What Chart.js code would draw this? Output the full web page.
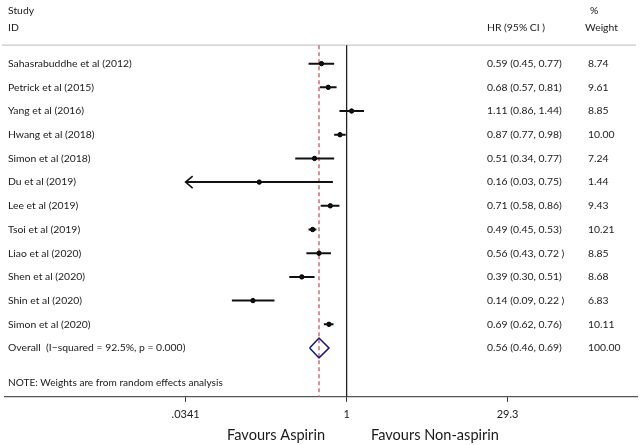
<!DOCTYPE html>
<html>
<head>
<meta charset="utf-8">
<script src="https://cdn.jsdelivr.net/npm/chart.js@4.4.1/dist/chart.umd.min.js"></script>
<style>
  body { margin: 0; background: #fff; }
  #wrap { width: 642px; height: 445px; position: relative; }
</style>
</head>
<body>
<div id="wrap"><canvas id="forest"></canvas></div>
<script>
const STUDIES = ['Sahasrabuddhe et al (2012)', 'Petrick et al (2015)', 'Yang et al (2016)', 'Hwang et al (2018)',
    'Simon et al (2018)', 'Du et al (2019)', 'Lee et al (2019)', 'Tsoi et al (2019)', 'Liao et al (2020)',
    'Shen et al (2020)', 'Shin et al (2020)', 'Simon et al (2020)']
const HR = [0.59, 0.68, 1.11, 0.87, 0.51, 0.16, 0.71, 0.49, 0.56, 0.39, 0.14, 0.69]
const LOWER = [0.45, 0.57, 0.86, 0.77, 0.34, 0.03, 0.58, 0.45, 0.43, 0.30, 0.09, 0.62]
const UPPER = [0.77, 0.81, 1.44, 0.98, 0.77, 0.75, 0.86, 0.53, 0.72, 0.51, 0.22, 0.76]
const HR_TEXT = ['0.59 (0.45, 0.77)', '0.68 (0.57, 0.81)', '1.11 (0.86, 1.44)', '0.87 (0.77, 0.98)',
    '0.51 (0.34, 0.77)', '0.16 (0.03, 0.75)', '0.71 (0.58, 0.86)', '0.49 (0.45, 0.53)', '0.56 (0.43, 0.72 )',
    '0.39 (0.30, 0.51)', '0.14 (0.09, 0.22 )', '0.69 (0.62, 0.76)']
const WEIGHTS = ['8.74', '9.61', '8.85', '10.00', '7.24', '1.44', '9.43', '10.21', '8.85', '8.68', '6.83', '10.11']

const OVERALL_LABEL = 'Overall  (I\u2212squared = 92.5%, p = 0.000)'
const OVERALL = [0.56, 0.46, 0.69]   // est, lower, upper
const OVERALL_TEXT = '0.56 (0.46, 0.69)'
const OVERALL_WEIGHT = '100.00'
const NOTE = 'NOTE: Weights are from random effects analysis'

const TICKS = [0.0341, 1, 29.3]
const TICK_LABELS = ['.0341', '1', '29.3']

const FONT = 'Lato, "Open Sans", sans-serif'
const overallRow = STUDIES.length

// pick a font size so the text is as wide as in the original figure
function fitFont(ctx, text, width) {
    ctx.font = '20px ' + FONT
    return (20 * width / ctx.measureText(text).width).toFixed(2) + 'px ' + FONT
}

// CI whiskers, clipped at the lowest tick (an arrow marks the clipped end)
const ciSets = STUDIES.map((s, i) => ({
    type: 'line',
    data: [{ x: Math.max(LOWER[i], TICKS[0]), y: i }, { x: Math.min(UPPER[i], TICKS[2]), y: i }],
    borderColor: '#111',
    borderWidth: 2,
    pointRadius: 0,
    showLine: true
}))

const pointSet = {
    type: 'scatter',
    data: HR.map((v, i) => ({ x: v, y: i })),
    backgroundColor: '#000',
    borderColor: '#000',
    pointRadius: 2.2,
    pointStyle: 'circle'
}

const diamondSet = {
    type: 'line',
    data: [
        { x: OVERALL[1], y: overallRow },
        { x: OVERALL[0], y: overallRow - 0.42 },
        { x: OVERALL[2], y: overallRow },
        { x: OVERALL[0], y: overallRow + 0.42 },
        { x: OVERALL[1], y: overallRow }
    ],
    borderColor: '#1c1c78',
    borderWidth: 1.6,
    pointRadius: 0,
    fill: false,
    tension: 0
}

const forestText = {
    id: 'forestText',
    beforeDatasetsDraw(chart) {
        const { ctx, scales: { x, y }, chartArea } = chart
        const top = y.getPixelForValue(-0.78)
        ctx.save()
        // separator below the header
        ctx.strokeStyle = '#c8c8c8'
        ctx.lineWidth = 1.2
        ctx.beginPath(); ctx.moveTo(2, top); ctx.lineTo(636, top); ctx.stroke()
        // no-effect line
        ctx.strokeStyle = '#222'
        ctx.lineWidth = 1.3
        const x1 = x.getPixelForValue(1)
        ctx.beginPath(); ctx.moveTo(x1, top); ctx.lineTo(x1, chartArea.bottom); ctx.stroke()
        // overall estimate line
        ctx.strokeStyle = '#c96f7c'
        ctx.lineWidth = 1.5
        ctx.setLineDash([4, 3])
        const xo = x.getPixelForValue(OVERALL[0])
        ctx.beginPath(); ctx.moveTo(xo, top); ctx.lineTo(xo, chartArea.bottom); ctx.stroke()
        ctx.restore()
    },
    afterDraw(chart) {
        const { ctx, scales: { x, y } } = chart
        ctx.save()
        // arrows for clipped intervals
        ctx.strokeStyle = '#111'
        ctx.lineWidth = 1.6
        LOWER.forEach((lo, i) => {
            if (lo < TICKS[0]) {
                const px = x.getPixelForValue(TICKS[0])
                const py = y.getPixelForValue(i)
                ctx.beginPath()
                ctx.moveTo(px + 7, py - 6); ctx.lineTo(px, py); ctx.lineTo(px + 7, py + 6)
                ctx.stroke()
            }
        })

        const bodyFont = fitFont(ctx, STUDIES[0], 124)
        const noteFont = fitFont(ctx, NOTE, 215)
        const bigFont = fitFont(ctx, 'Favours Aspirin', 98)

        ctx.fillStyle = '#1a1a1a'
        ctx.textBaseline = 'middle'
        ctx.font = bodyFont
        ctx.textAlign = 'left'
        ctx.fillText('Study', 8, y.getPixelForValue(-2.23))
        ctx.fillText('ID', 8, y.getPixelForValue(-1.53))
        ctx.fillText('HR (95% CI )', 487, y.getPixelForValue(-1.53))
        ctx.fillText('%', 590, y.getPixelForValue(-2.23))
        ctx.fillText('Weight', 585, y.getPixelForValue(-1.53))

        STUDIES.forEach((s, i) => {
            const py = y.getPixelForValue(i)
            ctx.fillText(s, 8, py)
            ctx.fillText(HR_TEXT[i], 487, py)
            ctx.fillText(WEIGHTS[i], 588, py)
        })
        const po = y.getPixelForValue(overallRow)
        ctx.fillText(OVERALL_LABEL, 8, po)
        ctx.fillText(OVERALL_TEXT, 487, po)
        ctx.fillText(OVERALL_WEIGHT, 588, po)

        ctx.font = noteFont
        ctx.fillText(NOTE, 8, y.getPixelForValue(overallRow + 1.48))

        ctx.font = bigFont
        ctx.textAlign = 'right'
        ctx.fillText('Favours Aspirin', 325, 435)
        ctx.textAlign = 'left'
        ctx.fillText('Favours Non-aspirin', 371, 435)
        ctx.restore()
    }
}

new Chart(document.getElementById('forest'), {
    type: 'scatter',
    data: { datasets: [...ciSets, pointSet, diamondSet] },
    options: {
        responsive: true,
        maintainAspectRatio: false,
        animation: false,
        layout: { padding: { left: 0, right: 0, top: 0, bottom: 18 } },
        plugins: { legend: { display: false }, tooltip: { enabled: false } },
        scales: {
            x: {
                type: 'logarithmic',
                min: 0.00077,
                max: 443,
                afterBuildTicks: (scale) => { scale.ticks = TICKS.map(v => ({ value: v })) },
                ticks: {
                    autoSkip: false,
                    maxRotation: 0,
                    padding: 6,
                    color: '#1a1a1a',
                    font: { family: FONT, size: 11 },
                    callback: (v, i) => TICK_LABELS[i]
                },
                grid: { drawOnChartArea: false, drawTicks: true, tickLength: 5, color: '#333' },
                border: { display: true, color: '#555', width: 1.2 }
            },
            y: {
                type: 'linear',
                reverse: true,
                min: -2.474,
                max: 14.06,
                display: false
            }
        }
    },
    plugins: [forestText]
})
</script>
</body>
</html>
